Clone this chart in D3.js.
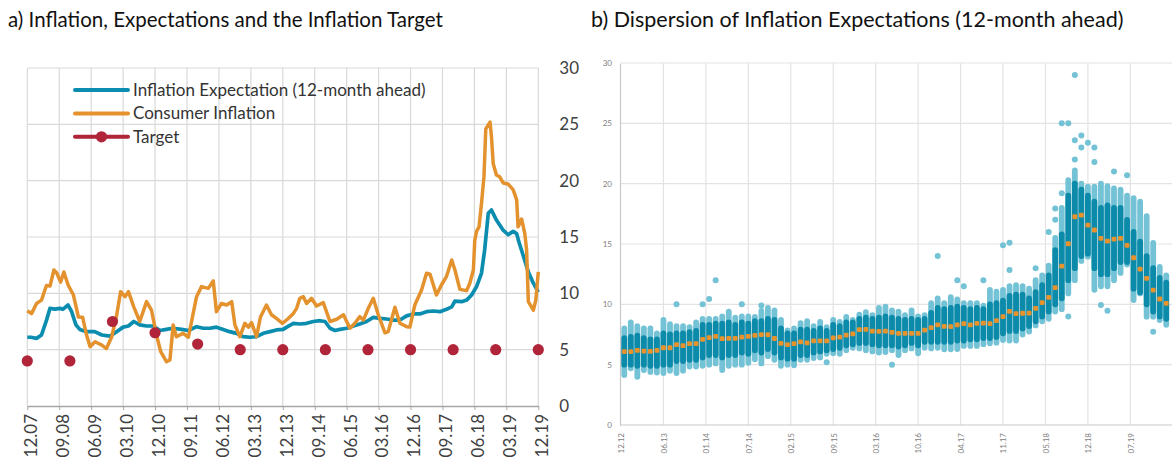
<!DOCTYPE html>
<html>
<head>
<meta charset="utf-8">
<script src="https://cdn.jsdelivr.net/npm/d3@7"></script>
<style>
  body { margin: 0; background: #fff; }
  svg { font-family: Lato, "Open Sans", sans-serif; }
</style>
</head>
<body>
<svg id="chart" width="1172" height="461"></svg>
<script>
// ---------- panel a) : monthly series, month offset counted from 12.07 ----------
const leftTickLabels = ["12.07","09.08","06.09","03.10","12.10","09.11","06.12","03.13","12.13",
  "09.14","06.15","03.16","12.16","09.17","06.18","03.19","12.19"];
const leftTickMonths = [0,9,18,27,36,45,54,63,72,81,90,99,108,117,126,135,144];
const leftYTicks = [0,5,10,15,20,25,30];

const expMonth = [0,1,2.6,4,5.4,6.4,7.8,9.2,10,11.5,12.5,13.7,14.8,16.7,19,21,23.3,25.2,27,28.5,
  30,31.7,33.6,35.5,37.4,39.2,41,43.5,45.4,47.7,49.6,51.5,53.3,55.2,57,59,60.8,62.7,64.6,66.5,
  68.4,70.2,72.1,73.1,75,76.8,78.7,80.6,82.5,83.9,85.3,86.7,88.1,90,91.9,93.7,95.6,97.5,99.4,101.2,
  103.1,105,106.9,108.8,110.6,112.5,114.4,116.3,118.1,119.6,120.5,122.4,123.8,125.2,126.6,128,128.9,129.9,130.8,132.2,
  134.1,135.5,136.9,137.9,138.5,139.7,141.2,142.6,144];
const expValue = [6.1,6.1,6.0,6.3,7.6,8.67,8.6,8.67,8.58,8.96,8.37,7.2,6.8,6.6,6.6,6.3,6.2,6.6,7.0,7.1,
  7.5,7.2,7.1,7.1,6.7,6.8,6.9,6.8,6.7,7.04,6.9,6.9,7.0,6.8,6.6,6.45,6.15,6.1,6.15,6.45,
  6.6,6.75,6.8,7.0,7.34,7.28,7.34,7.5,7.57,7.5,6.9,6.7,6.8,6.9,7.1,7.28,7.5,7.87,7.78,7.72,
  7.63,7.63,8.0,8.17,8.17,8.37,8.43,8.37,8.58,8.8,9.3,9.26,9.4,9.85,10.6,11.8,13.9,17.1,17.4,16.5,
  15.6,15.2,15.5,15.3,14.6,13.4,11.9,10.9,10.1];

const cpiMonth = [0,1.2,2.6,4,5.4,6.4,7.5,8.3,9.4,10.3,11.5,13,14.4,15.6,16.7,17.7,19.1,21,22.3,23.8,
  25.2,26.3,27.5,28.5,30,31.7,33.6,35,36.4,37.6,39.2,40.2,41.1,42,43.9,45.4,47.7,49.1,51,52.4,
  53.3,54.7,56.2,57.6,58.5,59.9,61.3,62.3,63.2,64.6,65.7,67.4,68.8,70.2,71.9,73.3,75,75.9,76.8,77.8,
  78.7,80.1,81.5,83.4,85.3,87.2,89.1,90.9,92.3,93.7,94.7,96.1,97.5,98.9,100.8,101.7,103.6,105,106.9,107.8,
  109.2,111.1,112.5,113.5,115.3,116.7,118.1,119.6,120.5,121.9,123.8,124.7,125.7,126.1,126.6,127.3,128,128.7,129.2,130.4,
  130.8,131.3,132.2,133.1,134.1,135.5,136.9,137.9,138.3,139.3,140.2,140.7,141.2,142.6,143.3,144];
const cpiValue = [8.46,8.2,9.1,9.4,10.7,10.65,12.07,11.8,11.0,11.9,10.74,9.85,7.9,7.87,6.3,5.27,5.7,5.4,5.1,6.15,
  8.1,10.15,9.7,10.15,8.8,7.5,9.26,8.5,6.3,4.82,3.93,4.08,7.2,6.15,6.45,6.1,9.7,10.6,10.44,11.1,
  8.37,9.1,8.96,9.26,7.2,6.15,7.34,7.0,7.4,6.15,7.9,8.96,8.1,7.78,7.34,7.7,8.22,8.67,9.56,9.7,
  9.1,9.56,8.88,9.17,7.5,7.7,8.1,6.9,7.34,7.93,7.63,8.67,9.56,8.1,6.5,6.6,8.76,7.34,7.04,7.0,
  8.96,10.3,11.78,11.7,9.85,10.74,11.48,12.96,12.07,10.35,10.24,10.9,12.07,14.7,15.5,15.9,18.0,20.4,24.6,25.2,
  23.9,21.5,20.5,20.35,19.8,19.7,19.2,18.3,15.9,16.6,15.3,13.85,9.26,8.5,9.4,11.9];

const targetMonth = [0,12,24,36,48,60,72,84,96,108,120,132,144];
const targetValue = [4,4,7.5,6.5,5.5,5,5,5,5,5,5,5,5];

const legendNames = ["Inflation Expectation (12-month ahead)", "Consumer Inflation", "Target"];

// ---------- panel b) : one column of survey answers per month, 12.12 onwards ----------
const rightTickLabels = ["12.12","06.13","01.14","07.14","02.15","09.15","03.16","10.16","04.17",
  "11.17","05.18","12.18","07.19"];
const rightTickPos = [0,6.5,13,19.5,26,32.5,39,45.5,52,58.5,65,71.5,78];
const rightYTicks = [0,5,10,15,20,25,30];

const median = [6.08,6.08,6.19,6.13,6.1,6.19,6.4,6.4,6.66,6.57,6.74,6.74,
  7.1,7.24,7.35,7.15,7.18,7.18,7.29,7.35,7.42,7.49,7.48,7.17,
  6.77,6.66,6.74,6.89,6.81,6.97,6.97,6.97,7.22,7.28,7.45,7.55,
  7.9,7.93,7.78,7.76,7.78,7.68,7.6,7.6,7.6,7.6,7.87,8.07,
  8.3,8.18,8.15,8.3,8.4,8.3,8.43,8.45,8.4,8.65,8.98,9.42,
  9.23,9.26,9.27,9.67,10.14,10.58,11.38,13.17,15.02,17.26,17.4,16.57,
  16.16,15.47,15.24,15.41,15.47,14.89,13.86,12.92,12.15,11.18,10.44,10.08];
// highest / lowest answers of the main body of each column
const high = [8.0,8.5,8.2,8.0,8.0,7.6,8.7,8.35,8.2,8.2,8.1,8.5,
  8.8,8.8,8.8,9.0,9.4,8.9,9.0,9.0,8.95,9.45,9.7,9.5,
  8.7,7.85,8.0,8.45,8.6,8.2,8.55,8.1,8.7,8.55,8.95,8.7,
  9.15,9.35,9.1,9.7,9.8,9.5,9.4,9.1,9.5,9.0,9.1,10.1,
  10.5,10.1,10.6,10.4,10.1,10.1,10.1,9.9,11.2,11.05,11.2,11.5,
  11.6,11.5,11.3,12.0,12.4,13.2,15.5,18.0,20.3,21.1,20.0,19.75,
  19.75,20.0,19.8,19.6,19.5,19.0,18.8,18.5,17.3,15.1,13.1,12.4];
const low = [4.15,4.7,4.0,4.55,4.4,4.35,4.3,4.5,4.3,4.5,4.85,4.85,
  4.9,5.0,5.1,4.55,4.9,5.0,5.0,5.15,5.45,5.1,5.7,5.4,
  4.9,5.0,4.95,5.4,5.4,5.55,5.6,5.9,5.95,5.9,6.2,6.4,
  6.35,6.2,6.1,6.0,6.05,6.2,5.8,6.2,6.35,5.94,6.4,6.35,
  6.4,6.27,6.27,6.3,6.55,6.55,6.55,6.7,6.77,6.82,7.04,7.0,
  7.0,7.5,7.75,8.25,8.6,8.8,9.4,9.6,10.9,12.0,13.6,13.95,
  11.2,11.5,11.5,12.0,12.6,13.3,10.36,10.9,8.98,8.98,8.7,8.3];
// dense (dark) part of each column
const coreHigh = [7.2,7.3,7.4,7.2,7.1,7.1,7.6,7.5,7.6,7.6,7.7,7.8,
  8.3,8.3,8.4,8.4,8.5,8.3,8.5,8.4,8.6,8.6,8.8,8.7,
  8.0,7.6,7.6,7.9,7.9,7.8,8.0,7.8,8.3,8.2,8.5,8.5,
  8.8,8.9,8.8,8.9,9.0,8.9,8.8,8.7,8.8,8.7,8.8,9.3,
  9.7,9.6,9.7,9.8,9.7,9.6,9.7,9.6,10.0,10.1,10.3,10.7,
  10.8,10.8,10.5,11.0,11.6,12.4,14.5,15.8,19.0,20.0,19.5,19.0,
  18.5,18.0,18.2,18.0,18.0,17.0,16.0,15.2,14.0,13.0,12.2,11.8];
const coreLow = [5.0,5.0,4.9,5.0,4.9,4.9,5.0,5.0,5.3,5.3,5.4,5.4,
  5.6,5.8,5.8,5.6,5.8,5.8,6.0,5.9,6.2,6.0,6.3,6.0,
  5.6,5.5,5.5,5.8,5.8,6.0,6.1,6.2,6.3,6.4,6.6,6.7,
  6.8,6.8,6.7,6.6,6.6,6.6,6.5,6.6,6.8,6.6,6.9,6.9,
  6.9,6.9,6.9,7.0,7.0,7.1,7.1,7.2,7.2,7.3,7.6,7.8,
  7.8,8.0,8.2,8.6,9.0,9.4,10.0,10.5,12.0,13.0,14.0,14.2,
  13.0,12.5,12.5,13.0,13.5,13.5,11.3,11.0,10.0,9.4,9.0,8.8];
// isolated answers: [column, value]
const outliers = [[8,10.0],[12,10.0],[13,10.45],[14,12.0],[18,10.0],[21,9.9],[31,5.2],[41,5.0],
  [48,14.0],[51,12.0],[52,11.5],[55,12.0],[58,14.9],[59,15.1],[59,12.85],[63,13.0],[65,16.0],
  [66,17.95],[66,17.0],[67,19.2],[67,25.0],[68,25.0],[68,9.0],[69,29.0],[69,23.6],[69,22.0],
  [70,24.0],[70,23.0],[71,23.4],[72,23.0],[72,21.8],[73,9.94],[74,9.47],[75,21.0],[77,20.7],[81,7.73]];

const teal = "#0b8db0", orange = "#e3922e", red = "#b02539";
const svg = d3.select("#chart");

// ================= panel a =================
const xa = d3.scaleLinear().domain([0, 144]).range([27.3, 538.3]);
const ya = d3.scaleLinear().domain([0, 30]).range([406, 68]);
const ga = svg.append("g");

ga.append("text").attr("x", 8).attr("y", 27)
  .attr("font-size", 20.5).attr("fill", "#111")
  .text("a) Inflation, Expectations and the Inflation Target");

// grid
ga.append("g").selectAll("line").data(leftYTicks.filter(d => d > 0)).join("line")
  .attr("x1", xa(0)).attr("x2", xa(144))
  .attr("y1", d => ya(d)).attr("y2", d => ya(d))
  .attr("stroke", "#d9d9d9").attr("stroke-width", 1.2);
ga.append("g").selectAll("line").data(leftTickMonths).join("line")
  .attr("x1", d => xa(d)).attr("x2", d => xa(d))
  .attr("y1", ya(0)).attr("y2", ya(30))
  .attr("stroke", "#d9d9d9").attr("stroke-width", 1.2);

// bottom axis with rotated labels
const axA = ga.append("g").attr("transform", `translate(0,${ya(0)})`)
  .call(d3.axisBottom(xa).tickValues(leftTickMonths)
    .tickFormat((d, i) => leftTickLabels[i]).tickSize(4).tickSizeOuter(0));
axA.select(".domain").attr("stroke", "#a6a6a6").attr("stroke-width", 1.3);
axA.selectAll(".tick line").attr("stroke", "#a6a6a6");
axA.selectAll(".tick text")
  .attr("transform", "rotate(-90)")
  .attr("x", -8).attr("y", 0).attr("dy", "0.55em")
  .style("text-anchor", "end")
  .attr("font-size", 17).attr("font-family", "Lato").attr("fill", "#404040");

// value axis on the right
const ayA = ga.append("g").attr("transform", `translate(${xa(144)},0)`)
  .call(d3.axisRight(ya).tickValues(leftYTicks).tickSize(0).tickPadding(21));
ayA.select(".domain").remove();
ayA.selectAll("text").attr("font-size", 17).attr("font-family", "Lato").attr("fill", "#404040");

// series
const lineA = d3.line().x(d => xa(d[0])).y(d => ya(d[1]));
ga.append("path").datum(d3.zip(expMonth, expValue))
  .attr("d", lineA).attr("fill", "none").attr("stroke", teal)
  .attr("stroke-width", 3.7).attr("stroke-linejoin", "round");
ga.append("path").datum(d3.zip(cpiMonth, cpiValue))
  .attr("d", lineA).attr("fill", "none").attr("stroke", orange)
  .attr("stroke-width", 3.5).attr("stroke-linejoin", "round");
ga.append("g").selectAll("circle").data(d3.zip(targetMonth, targetValue)).join("circle")
  .attr("cx", d => xa(d[0])).attr("cy", d => ya(d[1])).attr("r", 5.6)
  .attr("fill", red);

// legend
const leg = ga.append("g");
const legColors = [teal, orange, red];
legendNames.forEach((name, i) => {
  const y = 90 + i * 23.4;
  leg.append("line").attr("x1", 75).attr("x2", 128).attr("y1", y).attr("y2", y)
    .attr("stroke", legColors[i]).attr("stroke-width", 4).attr("stroke-linecap", "round");
  if (i === 2) leg.append("circle").attr("cx", 101.5).attr("cy", y).attr("r", 5.6).attr("fill", red);
  leg.append("text").attr("x", 133).attr("y", y).attr("dy", "0.35em")
    .attr("font-size", 17).attr("fill", "#333").text(name);
});

// ================= panel b =================
const xb = d3.scaleLinear().domain([0, 84]).range([621, 1169.5]);
const yb = d3.scaleLinear().domain([0, 30]).range([425, 63]);
const gb = svg.append("g");

gb.append("text").attr("x", 591).attr("y", 27)
  .attr("font-size", 21.5).attr("fill", "#111")
  .text("b) Dispersion of Inflation Expectations (12-month ahead)");

gb.append("g").selectAll("line").data(rightYTicks.filter(d => d > 0)).join("line")
  .attr("x1", xb(0)).attr("x2", 1172)
  .attr("y1", d => yb(d)).attr("y2", d => yb(d))
  .attr("stroke", "#e3e3e3").attr("stroke-width", 1.2);
gb.append("g").selectAll("line").data(rightTickPos.filter(d => d > 0)).join("line")
  .attr("x1", d => xb(d)).attr("x2", d => xb(d))
  .attr("y1", yb(0)).attr("y2", yb(30))
  .attr("stroke", "#e3e3e3").attr("stroke-width", 1.2);

const axB = gb.append("g").attr("transform", `translate(0,${yb(0)})`)
  .call(d3.axisBottom(xb).tickValues(rightTickPos)
    .tickFormat((d, i) => rightTickLabels[i]).tickSize(0).tickSizeOuter(0));
axB.select(".domain").attr("stroke", "#c8c8c8").attr("stroke-width", 1.2).attr("d", "M620,0H1172");
axB.selectAll(".tick text")
  .attr("transform", "rotate(-90)")
  .attr("x", -8).attr("y", 0).attr("dy", "0.35em")
  .style("text-anchor", "end")
  .attr("font-size", 8).attr("font-family", "Lato").attr("fill", "#808080");

const ayB = gb.append("g").attr("transform", `translate(${xb(0) - 1},0)`)
  .call(d3.axisLeft(yb).tickValues(rightYTicks).tickSize(0).tickPadding(8));
ayB.select(".domain").attr("stroke", "#c8c8c8").attr("stroke-width", 1.2);
ayB.selectAll("text").attr("font-size", 8).attr("font-family", "Lato").attr("fill", "#808080");

// columns of answers
const cols = d3.range(median.length);
gb.append("g").selectAll("line").data(cols).join("line")
  .attr("x1", i => xb(i + 0.5)).attr("x2", i => xb(i + 0.5))
  .attr("y1", i => yb(low[i])).attr("y2", i => yb(high[i]))
  .attr("stroke", "#74c2d6").attr("stroke-width", 5.8).attr("stroke-linecap", "round");
gb.append("g").selectAll("line").data(cols).join("line")
  .attr("x1", i => xb(i + 0.5)).attr("x2", i => xb(i + 0.5))
  .attr("y1", i => yb(coreLow[i])).attr("y2", i => yb(coreHigh[i]))
  .attr("stroke", "#0c8aa9").attr("stroke-width", 5.8).attr("stroke-linecap", "round");
gb.append("g").selectAll("circle").data(outliers).join("circle")
  .attr("cx", d => xb(d[0] + 0.5)).attr("cy", d => yb(d[1])).attr("r", 3)
  .attr("fill", "#74c2d6");
gb.append("g").selectAll("rect").data(cols).join("rect")
  .attr("x", i => xb(i + 0.5) - 2.4).attr("y", i => yb(median[i]) - 2.4)
  .attr("width", 4.8).attr("height", 4.8).attr("rx", 1.2)
  .attr("fill", "#e8922c");
</script>
</body>
</html>
